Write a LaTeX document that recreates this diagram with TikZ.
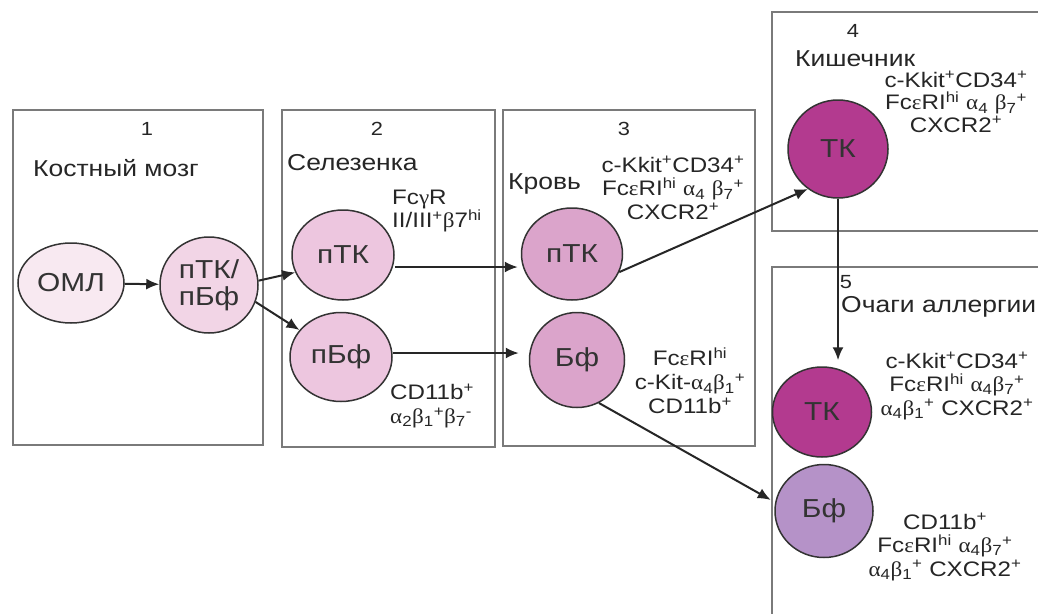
\documentclass[tikz,border=0pt]{standalone}
\usepackage{fontspec}
\setmainfont{Liberation Sans}[FakeStretch=1.15]
\newfontfamily\greekfont{Liberation Serif}[FakeStretch=1.1]
\usetikzlibrary{shapes.geometric,arrows.meta}
\definecolor{palePink}{HTML}{F8E9F1}
\definecolor{lightPink}{HTML}{F2D5E6}
\definecolor{spleenPink}{HTML}{EDC6DF}
\definecolor{midPink}{HTML}{DBA4CB}
\definecolor{deepMagenta}{HTML}{B33A8F}
\definecolor{paleViolet}{HTML}{B592C8}
\definecolor{boxGray}{HTML}{7A7A7A}
\newcommand{\plus}{\textsuperscript{+}}
\newcommand{\gr}[1]{{\greekfont #1}}

\begin{document}
\begin{tikzpicture}[x=1pt,y=-1pt,
    organ/.style={draw=boxGray,line width=1.5pt},
    cell/.style={ellipse,draw=black!80,line width=1.5pt,inner sep=0pt,
        font=\fontsize{26}{27}\selectfont,text=black!80},
    lbl/.style={font=\fontsize{23}{25}\selectfont,text=black!85,inner sep=0pt},
    num/.style={font=\fontsize{19}{21}\selectfont,text=black!85,inner sep=0pt},
    markers/.style={font=\fontsize{21}{23.5}\selectfont,align=center,inner sep=0pt,text=black!85},
    flow/.style={-{Latex[length=13pt,width=11pt]},line width=2pt,black!85}]
    \useasboundingbox (0,0) rectangle (1038,613);
    \fill[white] (0,0) rectangle (1038,613);

    % organs
    \draw[organ] (13,110) rectangle (263,445);
    \draw[organ] (282,110) rectangle (495,447);
    \draw[organ] (503,110) rectangle (755,446);
    \draw[organ] (772,12) rectangle (1060,231);
    \draw[organ] (772,267) rectangle (1060,640);

    \node[num] (n1) at (147,129) {1};
    \node[lbl,anchor=west] (bone) at (33,168) {Костный мозг};
    \node[num] (n2) at (377,129) {2};
    \node[lbl,anchor=west] (spleen) at (287,163) {Селезенка};
    \node[num] (n3) at (624,129) {3};
    \node[lbl,anchor=west] (blood) at (508,184) {Кровь};
    \node[num] (n4) at (853,31) {4};
    \node[lbl,anchor=west] (gut) at (795,59) {Кишечник};
    \node[num] (n5) at (846,282) {5};
    \node[lbl,anchor=west] (allergy) at (841,307) {Очаги аллергии};

    % cells
    \node[cell,fill=palePink,minimum width=106pt,minimum height=80pt] (oml) at (71,283) {ОМЛ};
    \node[cell,fill=lightPink,minimum width=98pt,minimum height=96pt,align=center] (ptkpbf) at (209,285) {пТК/\\пБф};
    \node[cell,fill=spleenPink,minimum width=102pt,minimum height=90pt] (ptk2) at (343,255) {пТК};
    \node[cell,fill=spleenPink,minimum width=102pt,minimum height=89pt] (pbf2) at (341,357) {пБф};
    \node[cell,fill=midPink,minimum width=101pt,minimum height=92pt] (ptk3) at (572,254) {пТК};
    \node[cell,fill=midPink,minimum width=95pt,minimum height=95pt] (bf3) at (577,360) {Бф};
    \node[cell,fill=deepMagenta,minimum width=100pt,minimum height=98pt] (tk4) at (838,149) {ТК};
    \node[cell,fill=deepMagenta,minimum width=99pt,minimum height=90pt] (tk5) at (822,412) {ТК};
    \node[cell,fill=paleViolet,minimum width=98pt,minimum height=93pt] (bf5) at (824,511) {Бф};

    % markers
    \node[markers,anchor=west,align=left] (m2a) at (392,211)
        {Fc\gr{γ}R\\II/III\plus\gr{β}7\textsuperscript{hi}};
    \node[markers,anchor=west,align=left,font=\fontsize{21}{24}\selectfont] (m2b) at (390,406)
        {CD11b\plus\\\gr{α}\textsubscript{2}\gr{β}\textsubscript{1}\plus\gr{β}\textsubscript{7}\textsuperscript{-}};
    \node[markers] (m3a) at (673,188)
        {c-Kkit\plus CD34\plus\\Fc\gr{ε}RI\textsuperscript{hi} \gr{α}\textsubscript{4} \gr{β}\textsubscript{7}\plus\\CXCR2\plus};
    \node[markers,font=\fontsize{21}{24}\selectfont] (m3b) at (690,381)
        {Fc\gr{ε}RI\textsuperscript{hi}\\c-Kit-\gr{α}\textsubscript{4}\gr{β}\textsubscript{1}\plus\\CD11b\plus};
    \node[markers,font=\fontsize{21}{22.5}\selectfont] (m4) at (956,102)
        {c-Kkit\plus CD34\plus\\Fc\gr{ε}RI\textsuperscript{hi} \gr{α}\textsubscript{4} \gr{β}\textsubscript{7}\plus\\CXCR2\plus};
    \node[markers] (m5a) at (957,386)
        {c-Kkit\plus CD34\plus\\Fc\gr{ε}RI\textsuperscript{hi} \gr{α}\textsubscript{4}\gr{β}\textsubscript{7}\plus\\\gr{α}\textsubscript{4}\gr{β}\textsubscript{1}\plus{} CXCR2\plus};
    \node[markers] (m5b) at (945,547)
        {CD11b\plus\\Fc\gr{ε}RI\textsuperscript{hi} \gr{α}\textsubscript{4}\gr{β}\textsubscript{7}\plus\\\gr{α}\textsubscript{4}\gr{β}\textsubscript{1}\plus{} CXCR2\plus};

    % migration
    \draw[flow] (oml) -- (ptkpbf);
    \draw[flow] (ptkpbf.5) -- (ptk2.200);
    \draw[flow] (ptkpbf.-20) -- (pbf2.147);
    \draw[flow,shorten >=3pt] ([yshift=-12pt]ptk2.east) -- ([yshift=-12pt]ptk2.east -| ptk3.west);
    \draw[flow,shorten >=10pt] ([yshift=4pt]pbf2.east) -- ([yshift=4pt]pbf2.east -| bf3.west);
    \draw[flow] (ptk3.-21) -- (tk4.233);
    \draw[flow,shorten >=5pt] (bf3.-63) -- (bf5.170);
    \draw[flow,shorten >=6pt] (tk4.south) -- (tk4.south |- tk5.north);
\end{tikzpicture}
\end{document}
